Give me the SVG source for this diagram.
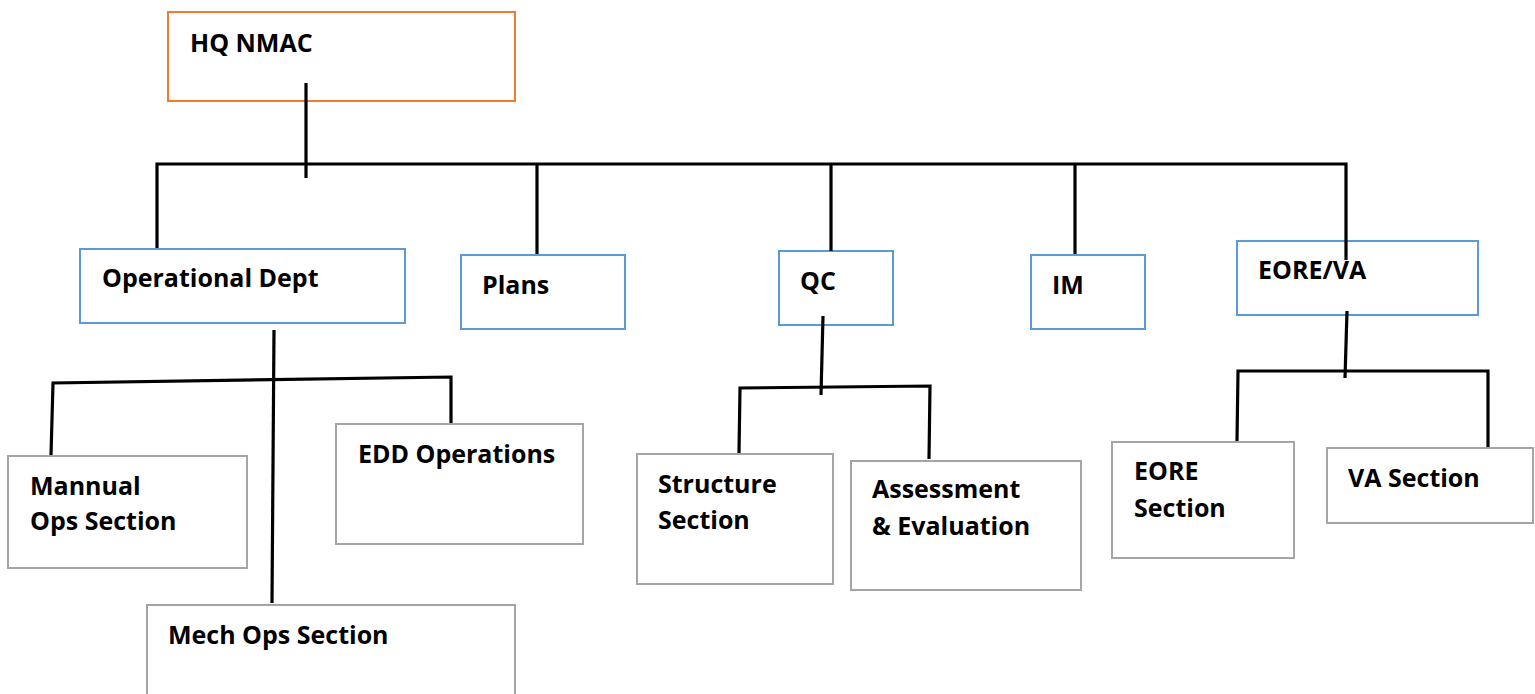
<svg xmlns="http://www.w3.org/2000/svg" width="1535" height="694" viewBox="0 0 1535 694">
<style>
  .box { fill: #FFFFFF; stroke-width: 2; }
  .top { stroke: #ED7D31; }
  .dept { stroke: #5B9BD5; }
  .sec { stroke: #A5A5A5; }
  .lbl { font-family: "Open Sans", "Liberation Sans", sans-serif; font-weight: bold; font-size: 25px; fill: #000000; }
  .conn { fill: none; stroke: #000000; stroke-width: 3.2; stroke-linejoin: miter; }
</style>
<rect width="1535" height="694" fill="#FFFFFF"/>
<g id="node-hq">
  <rect class="box top" x="168" y="12" width="347" height="89"/>
  <text class="lbl" x="190" y="52">HQ NMAC</text>
</g>
<g id="node-opdept">
  <rect class="box dept" x="80" y="249" width="325" height="74"/>
  <text class="lbl" x="102" y="287">Operational Dept</text>
</g>
<g id="node-plans">
  <rect class="box dept" x="461" y="255" width="164" height="74"/>
  <text class="lbl" x="482" y="294">Plans</text>
</g>
<g id="node-qc">
  <rect class="box dept" x="779" y="251" width="114" height="74"/>
  <text class="lbl" x="800" y="290">QC</text>
</g>
<g id="node-im">
  <rect class="box dept" x="1031" y="255" width="114" height="74"/>
  <text class="lbl" x="1052" y="294">IM</text>
</g>
<g id="node-eoreva">
  <rect class="box dept" x="1237" y="241" width="241" height="74"/>
  <text class="lbl" x="1258" y="279">EORE/VA</text>
</g>
<g id="node-mannual">
  <rect class="box sec" x="8" y="456" width="239" height="112"/>
  <text class="lbl" x="30" y="495">Mannual</text>
  <text class="lbl" x="30" y="530">Ops Section</text>
</g>
<g id="node-edd">
  <rect class="box sec" x="336" y="424" width="247" height="120"/>
  <text class="lbl" x="358" y="463">EDD Operations</text>
</g>
<g id="node-mech">
  <rect class="box sec" x="147" y="605" width="368" height="110"/>
  <text class="lbl" x="168" y="644">Mech Ops Section</text>
</g>
<g id="node-structure">
  <rect class="box sec" x="637" y="454" width="196" height="130"/>
  <text class="lbl" x="658" y="493">Structure</text>
  <text class="lbl" x="658" y="529">Section</text>
</g>
<g id="node-assessment">
  <rect class="box sec" x="851" y="461" width="230" height="129"/>
  <text class="lbl" x="872" y="498">Assessment</text>
  <text class="lbl" x="872" y="535">&amp; Evaluation</text>
</g>
<g id="node-eore">
  <rect class="box sec" x="1112" y="442" width="182" height="116"/>
  <text class="lbl" x="1134" y="480">EORE</text>
  <text class="lbl" x="1134" y="517">Section</text>
</g>
<g id="node-va">
  <rect class="box sec" x="1327" y="448" width="206" height="75"/>
  <text class="lbl" x="1348" y="487">VA Section</text>
</g>
<g id="connectors">
  <path class="conn" d="M306,83 V178"/>
  <path class="conn" d="M157,248 V164 H1346 V260"/>
  <path class="conn" d="M537,164 V254"/>
  <path class="conn" d="M831,164 V251"/>
  <path class="conn" d="M1075,164 V254"/>
  <path class="conn" d="M274,330 L272,603"/>
  <path class="conn" d="M51,455 L53,383 L451,377 V423"/>
  <path class="conn" d="M823,316 L821,395"/>
  <path class="conn" d="M739,453 L740,388 L930,386 L929,459"/>
  <path class="conn" d="M1347,311 L1345,378"/>
  <path class="conn" d="M1237,441 L1238,371 H1488 V447"/>
</g>
</svg>
